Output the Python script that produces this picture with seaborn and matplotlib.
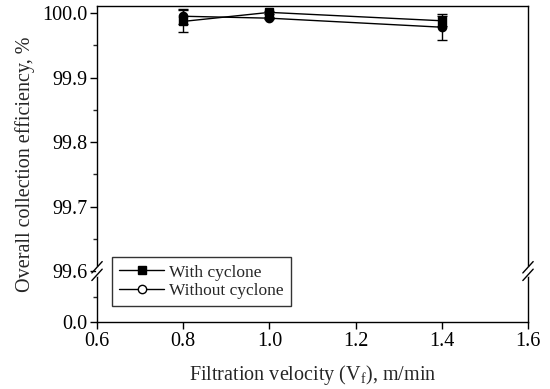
import matplotlib
matplotlib.use("Agg")
import matplotlib.pyplot as plt
from matplotlib.lines import Line2D
import seaborn as sns
import pandas as pd

sns.set_style("ticks")
plt.rcParams['font.family'] = ['Liberation Serif', 'DejaVu Serif']
plt.rcParams['mathtext.fontset'] = 'custom'
plt.rcParams['mathtext.rm'] = 'Liberation Serif'

# Filtration velocity, m/min
velocity = [0.8, 1.0, 1.4]
# Overall collection efficiency, %
eff_with = [99.987, 100.001, 99.988]
err_with = [0.017, 0.002, 0.008]
eff_without = [99.995, 99.992, 99.978]
err_without = [0.012, 0.002, 0.020]

series_names = ["With cyclone", "Without cyclone"]
x_ticks = [0.6, 0.8, 1.0, 1.2, 1.4, 1.6]
y_ticks = [99.6, 99.7, 99.8, 99.9, 100.0]

# lower segment of the broken axis: 0.0 sits just below the break
y_low = 99.521
y_top = 100.0109

df = pd.DataFrame({
    "v": velocity * 2,
    "eff": eff_with + eff_without,
    "err": err_with + err_without,
    "series": [series_names[0]] * 3 + [series_names[1]] * 3,
})

fig = plt.figure(figsize=(5.5, 3.89), dpi=100)
ax = fig.add_axes([0.1764, 0.1722, 0.96 - 0.1764, 0.9846 - 0.1722])

for name, g in df.groupby("series", sort=False):
    ax.errorbar(g["v"], g["eff"], yerr=g["err"], fmt="none", ecolor="black",
                elinewidth=1.0, capsize=3.5, capthick=1.0, zorder=2)

sns.lineplot(data=df, x="v", y="eff", style="series",
             markers={"With cyclone": "s", "Without cyclone": "o"},
             dashes=False, color="black", linewidth=1.0, ax=ax, legend=False,
             markersize=6, zorder=3)
lines = [l for l in ax.get_lines() if len(l.get_xdata()) == 3]
for ln in lines:
    ln.set_markeredgecolor("black")
    ln.set_markeredgewidth(1.0)
lines[0].set_markerfacecolor("black")
lines[1].set_markerfacecolor("white")

ax.set_xlim(0.6, 1.6)
ax.set_ylim(y_low, y_top)
ax.set_xticks(x_ticks)
ax.set_xticklabels([f"{t:.1f}" for t in x_ticks])
ax.set_yticks([y_low] + y_ticks)
ax.set_yticklabels(["0.0"] + [f"{t:.1f}" for t in y_ticks])
ax.set_yticks([(y_low + 99.6) / 2, 99.65, 99.75, 99.85, 99.95], minor=True)

ax.tick_params(axis="both", which="major", direction="out", length=5, width=1.0,
               labelsize=14.5, colors="black", top=False, right=False, pad=2)
ax.tick_params(axis="y", which="minor", direction="out", length=3, width=1.0)
for s in ax.spines.values():
    s.set_color("black")
    s.set_linewidth(1.0)

ax.set_xlabel("Filtration velocity (V$_\\mathrm{f}$), m/min", fontsize=14.5, labelpad=9)
ax.set_ylabel("Overall collection efficiency, %", fontsize=14.5, labelpad=5)

# break marks on both vertical spines
yb = (99.6 - y_low) / (y_top - y_low)
for xa in (0.0, 1.0):
    ax.plot([xa, xa], [yb - 0.012, yb + 0.012], transform=ax.transAxes,
            color="white", lw=2.0, clip_on=False, zorder=4)
    for dy in (-0.012, 0.012):
        ax.plot([xa - 0.012, xa + 0.012], [yb + dy - 0.018, yb + dy + 0.018],
                transform=ax.transAxes, color="black", lw=1.0, clip_on=False, zorder=5)

handles = [
    Line2D([], [], color="black", lw=1.0, marker="s", markersize=6,
           markerfacecolor="black", markeredgecolor="black"),
    Line2D([], [], color="black", lw=1.0, marker="o", markersize=6,
           markerfacecolor="white", markeredgecolor="black"),
]
leg = ax.legend(handles, series_names, loc="lower left", bbox_to_anchor=(0.035, 0.05),
                fontsize=12.5, frameon=True, fancybox=False, edgecolor="black",
                handlelength=2.6, handletextpad=0.3, borderpad=0.4, labelspacing=0.15,
                borderaxespad=0)
leg.get_frame().set_linewidth(1.0)

fig.savefig("out.png", dpi=100)
